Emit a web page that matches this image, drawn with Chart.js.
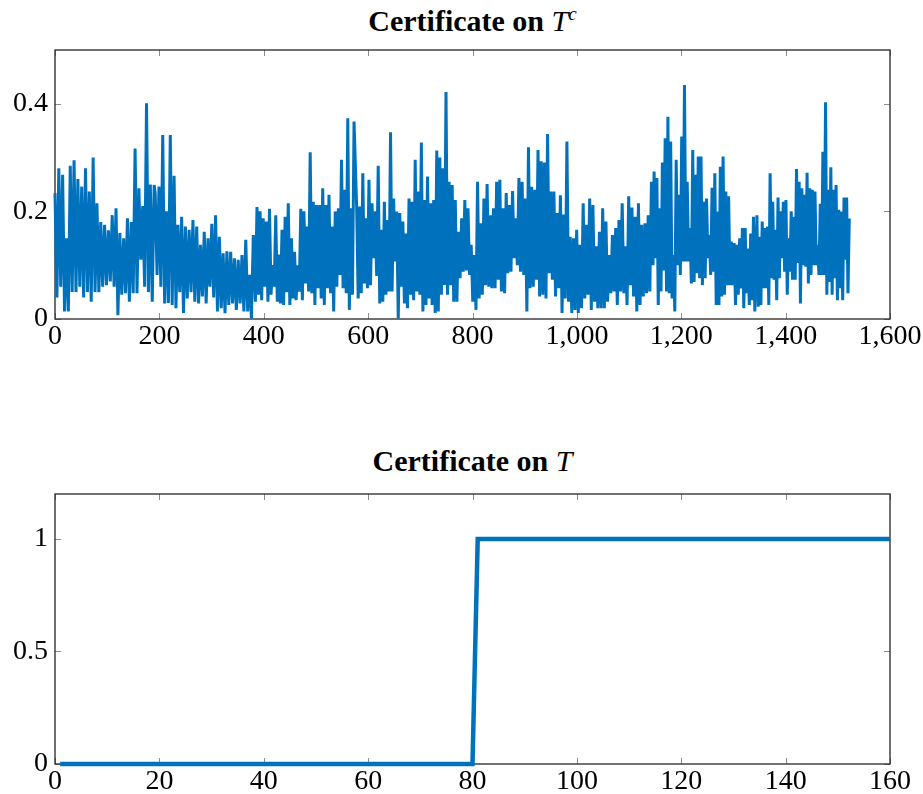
<!DOCTYPE html>
<html>
<head>
<meta charset="utf-8">
<title>Certificates</title>
<script src="https://cdn.jsdelivr.net/npm/chart.js@4.4.1/dist/chart.umd.min.js"></script>
<style>
    body { margin: 0; background: #fff; width: 923px; height: 794px; position: relative; overflow: hidden; font-family: "Liberation Serif", serif; }
    .title { position: absolute; left: 55px; width: 835px; text-align: center; font-weight: bold; font-size: 30px; line-height: 32px; color: #000; }
    .title i { font-weight: normal; }
    .title sup { font-size: 19px; line-height: 0; }
    canvas { position: absolute; left: 0; }
</style>
</head>
<body>
<div class="title" style="top:5px">Certificate on <i>T</i><sup><i>c</i></sup></div>
<canvas id="chartTop" width="923" height="320" style="top:40px"></canvas>
<div class="title" style="top:445px">Certificate on <i>T</i></div>
<canvas id="chartBottom" width="923" height="314" style="top:480px"></canvas>
<script>
// Certificate on T^c: in 8 stretches, alternating peak / dip
const blockStart = [0, 192, 381, 578, 767, 956, 1148, 1345];
const blockEnd = [190, 380, 573, 764, 953, 1146, 1341, 1522];

const block1 = [0.234, 0.04, 0.28, 0.06, 0.268, 0.014, 0.15, 0.014, 0.285, 0.05, 0.295, 0.05, 0.26, 0.06,
    0.246, 0.04, 0.28, 0.05, 0.237, 0.032, 0.30, 0.05, 0.215, 0.05, 0.18, 0.06, 0.175, 0.063, 0.165, 0.07,
    0.193, 0.06, 0.206, 0.007, 0.16, 0.045, 0.15, 0.048, 0.187, 0.032, 0.18, 0.048, 0.317, 0.048, 0.243,
    0.11, 0.21, 0.06, 0.401, 0.05, 0.25, 0.032, 0.249];
const block2 = [0.234, 0.082, 0.246, 0.06, 0.342, 0.029, 0.20, 0.03, 0.342, 0.026, 0.266, 0.02, 0.175, 0.05,
    0.19, 0.011, 0.172, 0.038, 0.166, 0.05, 0.184, 0.032, 0.172, 0.029, 0.138, 0.042, 0.162, 0.029, 0.15,
    0.06, 0.177, 0.04, 0.193, 0.014, 0.153, 0.02, 0.122, 0.011, 0.126, 0.026, 0.125, 0.029, 0.113, 0.017,
    0.11, 0.029, 0.119, 0.014, 0.147, 0.014, 0.082, 0.001, 0.156];
const block3 = [0.156, 0.032, 0.208, 0.045, 0.20, 0.035, 0.187, 0.06, 0.181, 0.032, 0.205, 0.045, 0.10, 0.06,
    0.193, 0.032, 0.12, 0.029, 0.166, 0.026, 0.19, 0.05, 0.215, 0.026, 0.15, 0.038, 0.125, 0.035, 0.10, 0.051,
    0.205, 0.035, 0.20, 0.066, 0.172, 0.051, 0.31, 0.048, 0.218, 0.026, 0.212, 0.057, 0.212, 0.038, 0.243,
    0.026, 0.212, 0.057, 0.231, 0.048, 0.172, 0.014, 0.20, 0.06, 0.206, 0.082, 0.296, 0.057, 0.24, 0.048,
    0.373, 0.017, 0.206, 0.045, 0.367];
const block4 = [0.209, 0.038, 0.209, 0.048, 0.271, 0.066, 0.187, 0.057, 0.259, 0.063, 0.215, 0.113, 0.20, 0.08,
    0.285, 0.029, 0.166, 0.032, 0.218, 0.045, 0.184, 0.051, 0.347, 0.051, 0.224, 0.107, 0.20, 0.001, 0.197,
    0.06, 0.181, 0.029, 0.159, 0.020, 0.224, 0.045, 0.218, 0.035, 0.296, 0.051, 0.237, 0.045, 0.328, 0.014,
    0.221, 0.026, 0.265, 0.038, 0.215, 0.026, 0.221, 0.011, 0.313, 0.014, 0.30, 0.045, 0.28, 0.063, 0.422,
    0.045, 0.255, 0.063, 0.249, 0.032];
const block5 = [0.221, 0.032, 0.162, 0.076, 0.187, 0.088, 0.221, 0.09, 0.206, 0.082, 0.138, 0.032, 0.119, 0.017,
    0.255, 0.038, 0.178, 0.045, 0.224, 0.063, 0.251, 0.060, 0.193, 0.057, 0.206, 0.057, 0.255, 0.073, 0.259,
    0.051, 0.206, 0.048, 0.234, 0.085, 0.212, 0.088, 0.238, 0.113, 0.187, 0.100, 0.262, 0.088, 0.255, 0.082,
    0.224, 0.014, 0.319, 0.057, 0.246, 0.060, 0.240, 0.073, 0.314, 0.042, 0.293, 0.045, 0.291, 0.038, 0.344,
    0.085, 0.237, 0.073];
const block6 = [0.237, 0.042, 0.197, 0.057, 0.23, 0.011, 0.194, 0.038, 0.33, 0.032, 0.153, 0.011, 0.150, 0.017,
    0.166, 0.011, 0.138, 0.020, 0.215, 0.038, 0.175, 0.045, 0.224, 0.017, 0.212, 0.032, 0.135, 0.020, 0.162,
    0.020, 0.206, 0.020, 0.181, 0.032, 0.119, 0.048, 0.156, 0.051, 0.169, 0.026, 0.184, 0.051, 0.215, 0.048,
    0.135, 0.026, 0.228, 0.063, 0.207, 0.042, 0.19, 0.014, 0.215, 0.026, 0.175, 0.042, 0.178, 0.048, 0.193,
    0.051, 0.255, 0.10];
const block7 = [0.274, 0.113, 0.262, 0.026, 0.206, 0.051, 0.291, 0.09, 0.336, 0.051, 0.376, 0.048, 0.33, 0.038,
    0.119, 0.014, 0.296, 0.10, 0.231, 0.082, 0.339, 0.107, 0.435, 0.107, 0.255, 0.107, 0.169, 0.066, 0.314,
    0.069, 0.268, 0.085, 0.302, 0.076, 0.302, 0.063, 0.218, 0.076, 0.224, 0.113, 0.156, 0.082, 0.244, 0.088,
    0.271, 0.026, 0.20, 0.026, 0.283, 0.042, 0.302, 0.045, 0.237, 0.063, 0.228, 0.063, 0.144, 0.063, 0.141,
    0.026, 0.138, 0.045, 0.15, 0.057, 0.169, 0.020, 0.169, 0.048, 0.131, 0.026, 0.159, 0.035, 0.19, 0.014];
const block8 = [0.193, 0.023, 0.153, 0.026, 0.181, 0.057, 0.169, 0.057, 0.172, 0.026, 0.271, 0.076, 0.218, 0.073,
    0.166, 0.035, 0.226, 0.076, 0.20, 0.113, 0.218, 0.088, 0.221, 0.045, 0.150, 0.088, 0.20, 0.073, 0.190,
    0.073, 0.279, 0.104, 0.255, 0.029, 0.243, 0.100, 0.231, 0.097, 0.272, 0.066, 0.243, 0.082, 0.240, 0.100,
    0.237, 0.100, 0.138, 0.082, 0.214, 0.082, 0.311, 0.082, 0.403, 0.045, 0.240, 0.069, 0.282, 0.045, 0.240,
    0.076, 0.249, 0.035, 0.203, 0.057, 0.20, 0.035, 0.226, 0.110, 0.226, 0.048, 0.187];

const topXTicks = [0, 200, 400, 600, 800, 1000, 1200, 1400, 1600];
const topYTicks = [0, 0.2, 0.4];

// Certificate on T: flat at 0 up to 80, jumps to 1 at 81
const certX = [1, 80, 81, 160];
const certY = [0, 0, 1, 1];
const bottomXTicks = [0, 20, 40, 60, 80, 100, 120, 140, 160];
const bottomYTicks = [0, 0.5, 1];

const lineBlue = '#0072BD';
const tickFont = { family: '"Liberation Serif", serif', size: 28 };

// spread each stretch evenly over the x range it covers
const blocks = [block1, block2, block3, block4, block5, block6, block7, block8];
const topPoints = [];
blocks.forEach((vals, b) => {
    const step = (blockEnd[b] - blockStart[b]) / (vals.length - 1);
    vals.forEach((v, i) => topPoints.push({ x: blockStart[b] + i * step, y: v }));
});
const bottomPoints = certX.map((x, i) => ({ x: x, y: certY[i] }));

// pgfplots-like box with ticks pointing inward on all four sides
const frameTicks = {
    id: 'frameTicks',
    beforeDatasetsDraw(chart) {
        const { ctx, chartArea: a, scales: { x, y } } = chart;
        ctx.save();
        ctx.strokeStyle = '#8c8c8c';
        ctx.lineWidth = 1;
        ctx.beginPath();
        x.ticks.forEach(t => {
            const px = Math.round(x.getPixelForValue(t.value)) + 0.5;
            ctx.moveTo(px, a.bottom); ctx.lineTo(px, a.bottom - 6);
            ctx.moveTo(px, a.top); ctx.lineTo(px, a.top + 6);
        });
        y.ticks.forEach(t => {
            const py = Math.round(y.getPixelForValue(t.value)) + 0.5;
            ctx.moveTo(a.left, py); ctx.lineTo(a.left + 6, py);
            ctx.moveTo(a.right, py); ctx.lineTo(a.right - 6, py);
        });
        ctx.stroke();
        ctx.strokeStyle = '#262626';
        ctx.lineWidth = 1.3;
        ctx.strokeRect(a.left, a.top, a.right - a.left, a.bottom - a.top);
        ctx.restore();
    }
};

function makeChart(canvasId, points, width, xr, yr, xTicks, yTicks, padTop, xHeight, xFormat) {
    return new Chart(document.getElementById(canvasId), {
        type: 'line',
        data: {
            datasets: [{
                data: points,
                borderColor: lineBlue,
                borderWidth: width,
                pointRadius: 0,
                tension: 0,
                fill: false,
                clip: false
            }]
        },
        options: {
            responsive: false,
            animation: false,
            layout: { padding: { top: padTop, right: 33, left: 0, bottom: 0 } },
            plugins: { legend: { display: false }, tooltip: { enabled: false } },
            scales: {
                x: {
                    type: 'linear',
                    min: xr[0],
                    max: xr[1],
                    grid: { display: false, drawTicks: false },
                    border: { display: false },
                    afterBuildTicks: s => { s.ticks = xTicks.map(v => ({ value: v })); },
                    afterFit: s => { s.height = xHeight; s.paddingLeft = 0; s.paddingRight = 0; },
                    ticks: { font: tickFont, color: '#000', padding: 1, maxRotation: 0, autoSkip: false, callback: xFormat }
                },
                y: {
                    min: yr[0],
                    max: yr[1],
                    grid: { display: false, drawTicks: false },
                    border: { display: false },
                    afterBuildTicks: s => { s.ticks = yTicks.map(v => ({ value: v })); },
                    afterFit: s => { s.width = 55; s.paddingTop = 0; s.paddingBottom = 0; },
                    ticks: { font: tickFont, color: '#000', padding: 7, callback: v => String(v) }
                }
            }
        },
        plugins: [frameTicks]
    });
}

makeChart('chartTop', topPoints, 3, [0, 1600], [0, 0.5], topXTicks, topYTicks, 10, 41,
    v => v.toLocaleString('en-US'));
makeChart('chartBottom', bottomPoints, 4.5, [0, 160], [0, 1.2], bottomXTicks, bottomYTicks, 14, 30,
    v => String(v));
</script>
</body>
</html>
